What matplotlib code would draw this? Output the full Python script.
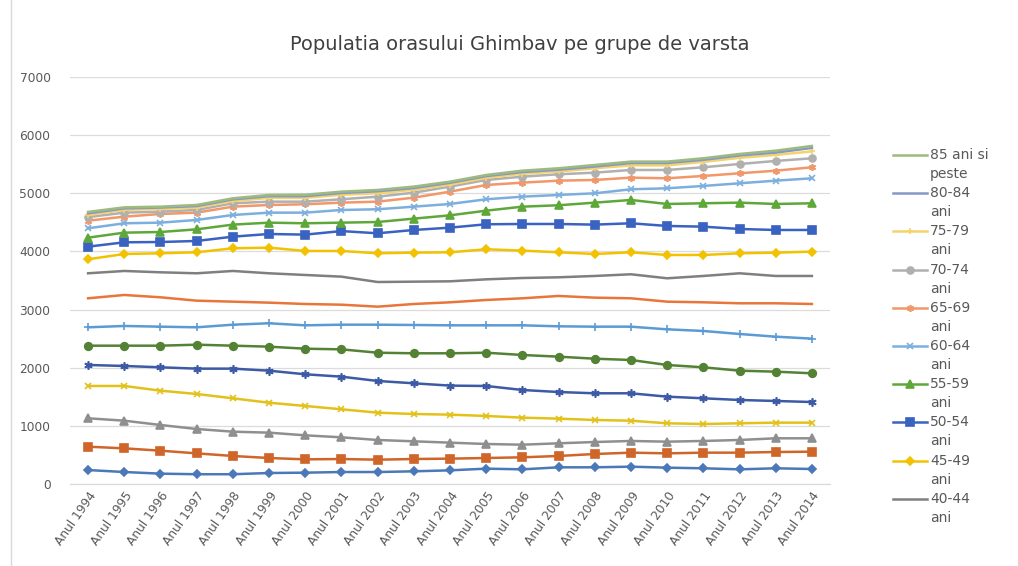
import matplotlib
matplotlib.use("Agg")
import matplotlib.pyplot as plt
from matplotlib.lines import Line2D

years = ["Anul %d" % y for y in range(1994, 2015)]

# stacked (cumulative) values as plotted, bottom group first
v_0_4 = [240, 206, 178, 168, 168, 189, 195, 206, 206, 218, 235, 264, 252, 287, 287, 298, 281, 270, 252, 270, 258]
v_5_9 = [642, 613, 573, 527, 482, 447, 424, 430, 418, 430, 436, 447, 459, 482, 516, 539, 527, 539, 539, 550, 556]
v_10_14 = [1130, 1089, 1015, 946, 900, 883, 837, 803, 757, 734, 711, 688, 676, 700, 722, 740, 728, 740, 757, 786, 786]
v_15_19 = [1686, 1686, 1605, 1548, 1474, 1398, 1342, 1285, 1227, 1204, 1193, 1170, 1141, 1124, 1101, 1089, 1044, 1032, 1044, 1055, 1055]
v_20_24 = [2047, 2030, 2007, 1984, 1984, 1949, 1887, 1846, 1772, 1732, 1692, 1686, 1617, 1582, 1560, 1560, 1502, 1474, 1445, 1428, 1410]
v_25_29 = [2379, 2379, 2379, 2396, 2379, 2362, 2327, 2316, 2258, 2248, 2248, 2258, 2219, 2190, 2155, 2133, 2047, 2007, 1949, 1932, 1904]
v_30_34 = [2695, 2718, 2706, 2695, 2740, 2764, 2729, 2740, 2740, 2735, 2729, 2729, 2729, 2712, 2706, 2706, 2660, 2632, 2580, 2534, 2500]
v_35_39 = [3194, 3251, 3211, 3153, 3136, 3119, 3096, 3084, 3050, 3096, 3125, 3165, 3194, 3234, 3205, 3194, 3136, 3125, 3108, 3108, 3096]
v_40_44 = [3624, 3664, 3641, 3624, 3664, 3624, 3595, 3566, 3474, 3480, 3486, 3520, 3543, 3555, 3578, 3607, 3538, 3578, 3624, 3578, 3578]
v_45_49 = [3865, 3956, 3968, 3985, 4054, 4065, 4008, 4008, 3968, 3979, 3985, 4037, 4014, 3985, 3956, 3985, 3939, 3939, 3968, 3979, 3996]
v_50_54 = [4082, 4157, 4162, 4180, 4254, 4300, 4289, 4350, 4312, 4369, 4409, 4467, 4472, 4472, 4461, 4484, 4438, 4426, 4386, 4369, 4369]
v_55_59 = [4237, 4323, 4334, 4380, 4461, 4495, 4484, 4495, 4506, 4564, 4621, 4701, 4770, 4794, 4839, 4885, 4816, 4828, 4839, 4816, 4828]
v_60_64 = [4398, 4484, 4495, 4541, 4627, 4667, 4667, 4713, 4725, 4770, 4816, 4897, 4942, 4971, 5000, 5069, 5086, 5126, 5172, 5217, 5258]
v_65_69 = [4529, 4598, 4644, 4667, 4770, 4799, 4811, 4839, 4856, 4925, 5028, 5143, 5183, 5217, 5229, 5269, 5258, 5298, 5344, 5389, 5447]
v_70_74 = [4590, 4667, 4684, 4713, 4828, 4856, 4856, 4897, 4942, 5011, 5115, 5229, 5286, 5327, 5355, 5401, 5401, 5447, 5504, 5556, 5602]
v_75_79 = [4625, 4715, 4730, 4755, 4865, 4920, 4920, 4975, 5000, 5060, 5150, 5265, 5335, 5375, 5430, 5480, 5480, 5540, 5610, 5660, 5720]
v_80_84 = [4655, 4740, 4755, 4780, 4895, 4950, 4950, 5005, 5035, 5090, 5180, 5295, 5365, 5405, 5460, 5520, 5520, 5575, 5650, 5700, 5780]
v_85 = [4680, 4758, 4770, 4799, 4914, 4971, 4975, 5028, 5057, 5115, 5200, 5315, 5389, 5430, 5487, 5545, 5545, 5602, 5676, 5733, 5814]

star = (6, 2, 0)
# (label, values, color, marker, markersize)
series = [
    ("0-4 ani", v_0_4, "#4a78b8", "D", 4),
    ("5-9 ani", v_5_9, "#d0652a", "s", 5.5),
    ("10-14 ani", v_10_14, "#8f8f8f", "^", 5.5),
    ("15-19 ani", v_15_19, "#e2c21a", "x", 4),
    ("20-24 ani", v_20_24, "#3d5aa6", star, 6),
    ("25-29 ani", v_25_29, "#548235", "o", 5.5),
    ("30-34 ani", v_30_34, "#5b9bd5", "+", 6),
    ("35-39 ani", v_35_39, "#e8763a", None, 0),
    ("40-44 ani", v_40_44, "#7f7f7f", None, 0),
    ("45-49 ani", v_45_49, "#f2c200", "D", 4.5),
    ("50-54 ani", v_50_54, "#3a62c0", "s", 6),
    ("55-59 ani", v_55_59, "#5ea83a", "^", 6),
    ("60-64 ani", v_60_64, "#7cafdd", "x", 4),
    ("65-69 ani", v_65_69, "#f1976a", star, 5),
    ("70-74 ani", v_70_74, "#b0b0b0", "o", 5),
    ("75-79 ani", v_75_79, "#f5d36a", "+", 5),
    ("80-84 ani", v_80_84, "#8797c8", None, 0),
    ("85 ani si peste", v_85, "#9dbb80", None, 0),
]

fig = plt.figure(figsize=(10.18, 5.66), dpi=100)
ax = fig.add_axes([70 / 1018, 82 / 566, 760 / 1018, 407 / 566])

x = list(range(len(years)))
for name, vals, col, mk, ms in series:
    ax.plot(x, vals, color=col, lw=1.8, marker=mk, markersize=ms,
            markeredgecolor=col, markerfacecolor=col, markeredgewidth=1.2)

ax.set_xlim(-0.5, len(years) - 0.5)
ax.set_ylim(0, 7000)
ax.set_yticks(range(0, 7001, 1000))
ax.set_xticks(x)
ax.set_xticklabels(years, rotation=55, ha="right", rotation_mode="anchor",
                   fontsize=8.8, color="#595959")
ax.tick_params(axis="y", labelsize=8.8, labelcolor="#595959", length=0, pad=14)
ax.tick_params(axis="x", length=0, pad=4)
ax.grid(axis="y", color="#dcdcdc", lw=0.9)
ax.set_axisbelow(True)
for s in ["top", "right", "left"]:
    ax.spines[s].set_visible(False)
ax.spines["bottom"].set_color("#d9d9d9")

fig.text(520 / 1018, 1 - 45 / 566, "Populatia orasului Ghimbav pe grupe de varsta",
         ha="center", va="center", fontsize=14, color="#404040")

# legend (top groups only, as in the original)
legend_items = list(reversed(series))[:10]
for k, (name, vals, col, mk, ms) in enumerate(legend_items):
    ypx = 155 + 38.2 * k
    yf = 1 - ypx / 566
    fig.add_artist(Line2D([893 / 1018, 927 / 1018], [yf, yf], transform=fig.transFigure,
                          color=col, lw=1.8))
    if mk is not None:
        fig.add_artist(Line2D([910 / 1018], [yf], transform=fig.transFigure, color=col,
                              marker=mk, markersize=ms, markeredgecolor=col,
                              markerfacecolor=col, markeredgewidth=1.2))
    if name.startswith("85"):
        first, second = "85 ani si", "peste"
    else:
        first, second = name.split(" ", 1)
    fig.text(930 / 1018, yf, first, ha="left", va="center", fontsize=10, color="#595959")
    fig.text(930 / 1018, 1 - (ypx + 19) / 566, second, ha="left", va="center",
             fontsize=10, color="#595959")

# left edge of the chart frame
fig.add_artist(Line2D([11 / 1018, 11 / 1018], [0, 1], transform=fig.transFigure,
                      color="#d9d9d9", lw=1))

fig.savefig("out.png", dpi=100)
